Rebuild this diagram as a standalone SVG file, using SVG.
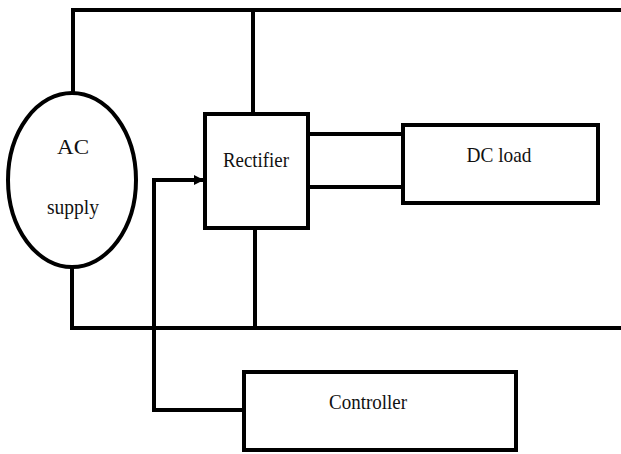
<svg xmlns="http://www.w3.org/2000/svg" width="621" height="454" viewBox="0 0 621 454">
<defs>
<marker id="ah" viewBox="0 0 10 10" refX="10" refY="5" markerWidth="10" markerHeight="10" markerUnits="userSpaceOnUse" orient="auto">
<path d="M0,0 L10,5 L0,10 z" fill="#000"/>
</marker>
</defs>
<style>
.n{fill:#fff;stroke:#000;stroke-width:4}
.w{fill:none;stroke:#000;stroke-width:4}
.t{font-size:21px;fill:#111;text-anchor:middle}
</style>
<rect width="621" height="454" fill="#fff"/>
<g id="connectors">
<polyline class="w" points="73,93 73,10 621,10"/>
<line class="w" x1="253" y1="10" x2="253" y2="114"/>
<polyline class="w" points="72,267 72,328 621,328"/>
<line class="w" x1="255" y1="228" x2="255" y2="328"/>
<line class="w" x1="308" y1="134" x2="403" y2="134"/>
<line class="w" x1="308" y1="187" x2="403" y2="187"/>
<polyline class="w" points="244,410 154,410 154,180 204,180" marker-end="url(#ah)"/>
</g>
<g font-family="Liberation Serif, Times New Roman, serif">
<g id="ac-supply">
<ellipse class="n" cx="72" cy="180" rx="64" ry="87"/>
<text class="t" x="73" y="154" textLength="32" lengthAdjust="spacingAndGlyphs">AC</text>
<text class="t" x="73" y="214" textLength="52" lengthAdjust="spacingAndGlyphs">supply</text>
</g>
<g id="rectifier">
<rect class="n" x="205" y="114" width="103" height="114"/>
<text class="t" x="256" y="167" textLength="66" lengthAdjust="spacingAndGlyphs">Rectifier</text>
</g>
<g id="dc-load">
<rect class="n" x="403" y="125" width="195" height="78"/>
<text class="t" x="499" y="162" textLength="65" lengthAdjust="spacingAndGlyphs">DC load</text>
</g>
<g id="controller">
<rect class="n" x="244" y="372" width="272" height="78"/>
<text class="t" x="368" y="409" textLength="78" lengthAdjust="spacingAndGlyphs">Controller</text>
</g>
</g>
</svg>
